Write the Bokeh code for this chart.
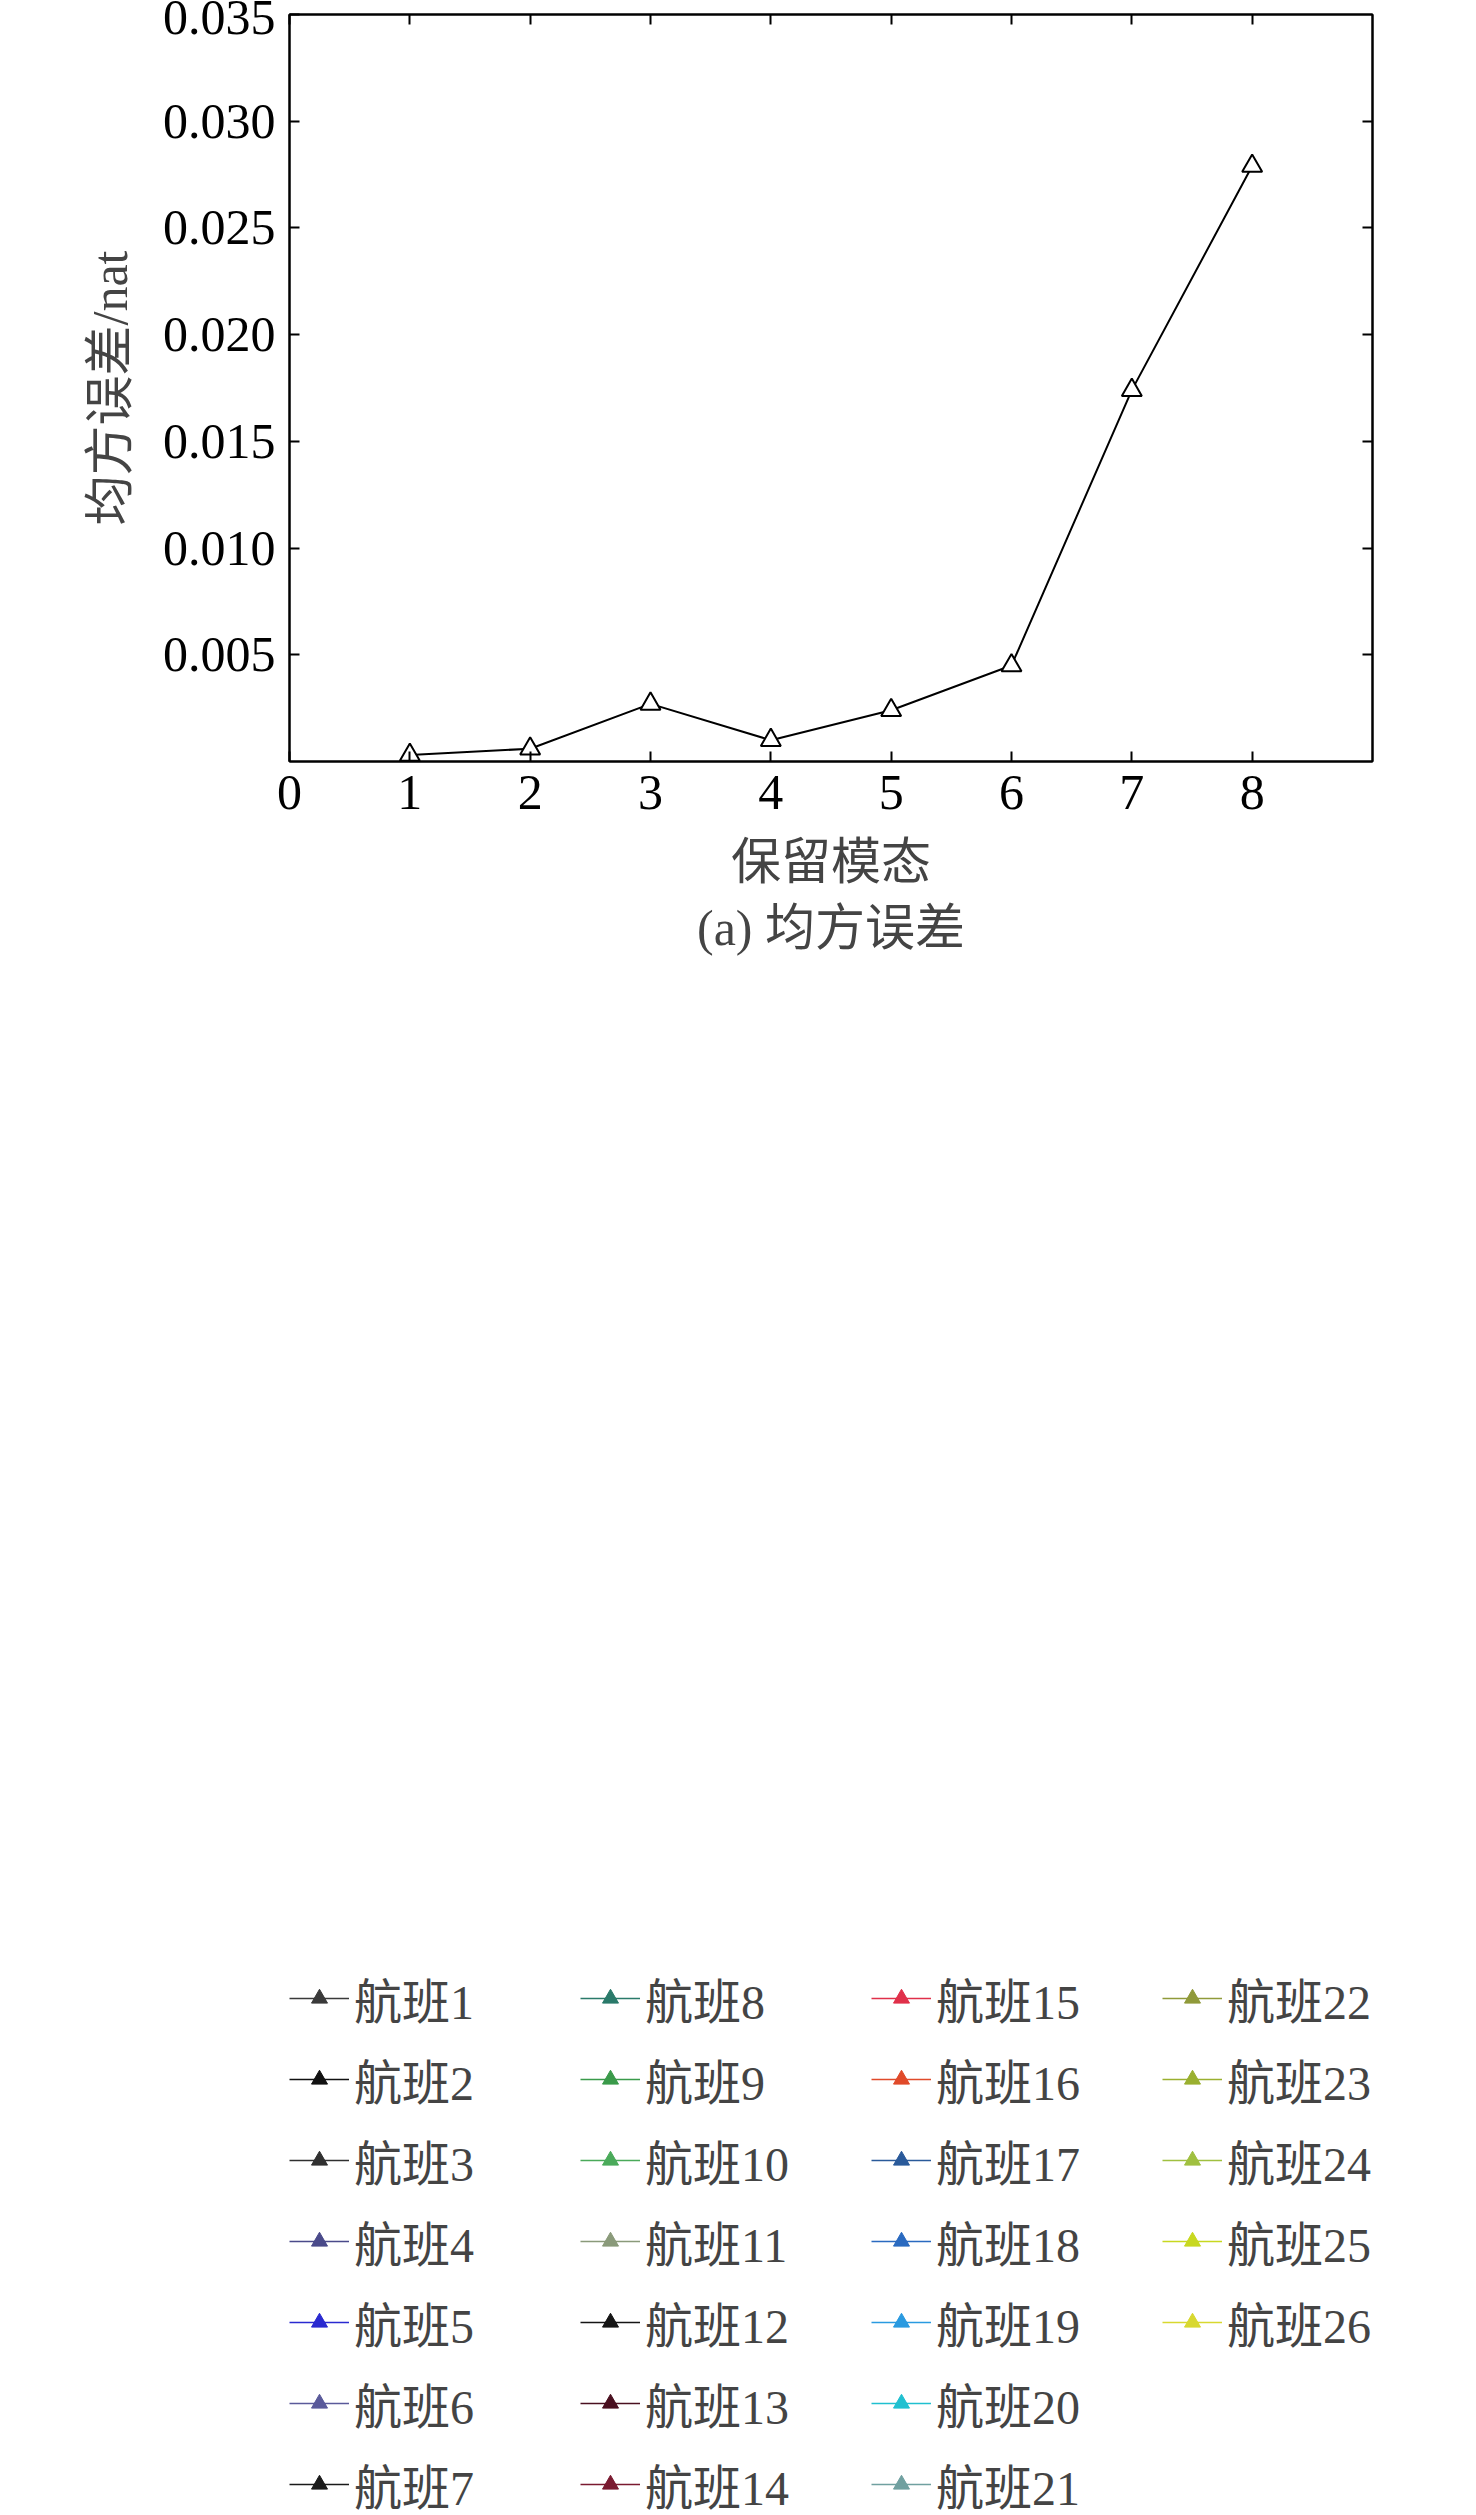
from bokeh.plotting import figure
from bokeh.models import Range1d, FixedTicker, LinearAxis, Legend, LegendItem, Title, PrintfTickFormatter
from bokeh.layouts import column
from bokeh.embed import file_html
from bokeh.resources import INLINE

FONT = "Liberation Serif, Noto Sans CJK SC"

modes = [1, 2, 3, 4, 5, 6, 7, 8]
mse = [0.0003, 0.0006, 0.0027, 0.0010, 0.0024, 0.0045, 0.0174, 0.0279]

scales = list(range(1, 21))
s1 = [0.35,0.015,0.40,0.46,0.49,0.50,0.47,0.45,0.41,0.38,0.35,0.30,0.27,0.24,0.22,0.20,0.19,0.18,0.17,0.15]
s2 = [0.31,0.015,0.37,0.44,0.48,0.45,0.41,0.40,0.36,0.33,0.30,0.27,0.22,0.19,0.17,0.16,0.15,0.14,0.115,0.185]
s3 = [0.33,0.015,0.38,0.45,0.50,0.52,0.49,0.47,0.43,0.38,0.33,0.28,0.25,0.23,0.21,0.20,0.19,0.18,0.17,0.16]
s4 = [0.40,0.015,0.36,0.42,0.46,0.45,0.42,0.40,0.30,0.27,0.33,0.27,0.355,0.26,0.22,0.21,0.25,0.28,0.24,0.34]
s5 = [0.30,0.015,0.34,0.41,0.45,0.44,0.42,0.39,0.35,0.31,0.28,0.22,0.20,0.18,0.19,0.20,0.18,0.19,0.22,0.23]
s6 = [0.32,0.015,0.35,0.43,0.47,0.47,0.45,0.41,0.37,0.34,0.32,0.26,0.23,0.24,0.20,0.18,0.21,0.30,0.22,0.26]
s7 = [0.29,0.015,0.33,0.40,0.44,0.43,0.40,0.39,0.35,0.30,0.27,0.27,0.21,0.17,0.21,0.20,0.20,0.14,0.17,0.14]
s8 = [0.39,0.015,0.36,0.43,0.47,0.48,0.46,0.43,0.40,0.35,0.32,0.26,0.24,0.22,0.19,0.21,0.20,0.24,0.28,0.23]
s9 = [0.33,0.015,0.38,0.45,0.49,0.49,0.47,0.44,0.38,0.34,0.30,0.26,0.25,0.20,0.18,0.16,0.17,0.21,0.26,0.27]
s10 = [0.31,0.015,0.37,0.44,0.48,0.50,0.47,0.44,0.41,0.40,0.35,0.29,0.28,0.23,0.22,0.19,0.21,0.22,0.25,0.28]
s11 = [0.34,0.015,0.39,0.46,0.49,0.47,0.46,0.45,0.42,0.41,0.41,0.30,0.27,0.24,0.21,0.21,0.20,0.22,0.24,0.16]
s12 = [0.30,0.015,0.36,0.43,0.47,0.51,0.48,0.46,0.47,0.43,0.39,0.30,0.28,0.25,0.20,0.20,0.17,0.19,0.18,0.13]
s13 = [0.32,0.015,0.37,0.45,0.51,0.52,0.49,0.50,0.40,0.36,0.38,0.405,0.30,0.20,0.30,0.22,0.19,0.14,0.14,0.15]
s14 = [0.31,0.015,0.38,0.44,0.515,0.52,0.48,0.505,0.43,0.30,0.37,0.27,0.26,0.17,0.22,0.21,0.21,0.25,0.27,0.26]
s15 = [0.215,0.015,0.24,0.29,0.345,0.365,0.367,0.297,0.28,0.31,0.33,0.34,0.375,0.44,0.37,0.43,0.495,0.503,0.53,0.465]
s16 = [0.455,0.015,0.435,0.45,0.43,0.385,0.335,0.375,0.325,0.295,0.25,0.215,0.22,0.21,0.15,0.15,0.13,0.13,0.135,0.15]
s17 = [0.32,0.015,0.35,0.42,0.46,0.46,0.44,0.42,0.38,0.33,0.31,0.25,0.25,0.30,0.325,0.30,0.22,0.23,0.20,0.26]
s18 = [0.30,0.015,0.33,0.41,0.44,0.47,0.44,0.41,0.40,0.35,0.30,0.32,0.27,0.25,0.19,0.18,0.22,0.30,0.21,0.22]
s19 = [0.28,0.015,0.32,0.40,0.44,0.45,0.43,0.42,0.41,0.36,0.33,0.28,0.24,0.22,0.18,0.19,0.20,0.21,0.22,0.24]
s20 = [0.33,0.015,0.34,0.40,0.43,0.44,0.43,0.45,0.43,0.34,0.30,0.28,0.23,0.31,0.29,0.19,0.22,0.25,0.23,0.22]
s21 = [0.34,0.015,0.37,0.42,0.45,0.49,0.50,0.44,0.39,0.36,0.36,0.30,0.22,0.20,0.20,0.18,0.21,0.20,0.27,0.24]
s22 = [0.35,0.015,0.37,0.46,0.49,0.46,0.47,0.43,0.40,0.38,0.30,0.33,0.29,0.22,0.20,0.22,0.22,0.18,0.21,0.24]
s23 = [0.36,0.015,0.40,0.47,0.50,0.48,0.45,0.44,0.42,0.41,0.34,0.28,0.27,0.24,0.22,0.24,0.14,0.21,0.15,0.12]
s24 = [0.30,0.015,0.38,0.46,0.47,0.47,0.45,0.48,0.45,0.39,0.35,0.30,0.25,0.23,0.23,0.18,0.19,0.10,0.24,0.16]
s25 = [0.47,0.015,0.455,0.48,0.48,0.43,0.38,0.32,0.28,0.235,0.22,0.175,0.19,0.21,0.13,0.15,0.14,0.15,0.055,0.13]
s26 = [0.34,0.015,0.39,0.47,0.48,0.40,0.39,0.37,0.35,0.36,0.29,0.29,0.22,0.23,0.27,0.23,0.32,0.34,0.33,0.38]
series = [s1,s2,s3,s4,s5,s6,s7,s8,s9,s10,s11,s12,s13,s14,s15,s16,s17,s18,s19,s20,s21,s22,s23,s24,s25,s26]
names = ["航班%d" % i for i in range(1, 27)]
colors = ["#3a3a3a","#111111","#303030","#4a4a8a","#2a2ad0","#5a5a9a","#1a1a1a",
          "#2a7a6a","#3a9a4a","#4aaa5a","#8a9a7a","#151515","#4a1020","#7a1a30",
          "#e0304a","#e04a2a","#2a5a9a","#2a6ac0","#2a9ae0","#20c0d0","#70a0a0",
          "#909a3a","#9ab030","#a0c040","#c8d820","#d8d830"]

def style_axes(p):
    for ax in p.axis:
        ax.axis_line_width = 2
        ax.major_tick_in = 10
        ax.major_tick_out = 0
        ax.major_tick_line_width = 2
        ax.minor_tick_line_color = None
        ax.major_label_text_font = FONT
        ax.major_label_text_color = "black"
        ax.axis_label_text_font = FONT
        ax.axis_label_text_font_size = "50px"
        ax.axis_label_text_font_style = "normal"
        ax.axis_label_standoff = 22
        ax.major_label_standoff = 14
        ax.major_label_text_font_size = "50px"
    p.xgrid.visible = False
    p.ygrid.visible = False
    p.outline_line_color = "black"
    p.outline_line_width = 2

def mirror(p, xt, yt):
    for side, t in (("right", yt), ("above", xt)):
        ax = LinearAxis(ticker=FixedTicker(ticks=t), major_label_text_font_size="1px",
                        major_label_text_color=None, major_label_standoff=0,
                        axis_line_width=2, major_tick_in=10, major_tick_out=0,
                        major_tick_line_width=2, minor_tick_line_color=None)
        p.add_layout(ax, side)

# top
p1 = figure(frame_width=1083, frame_height=747, output_backend="svg", toolbar_location=None,
            x_range=Range1d(0, 9), y_range=Range1d(0, 0.035),
            min_border_left=289, min_border_right=80, min_border_top=14)
p1.line(modes, mse, line_color="black", line_width=2)
p1.scatter(modes, mse, marker="triangle", size=20, fill_color="white", line_color="black", line_width=2)
p1.xaxis.ticker = FixedTicker(ticks=list(range(0, 9)))
p1.yaxis.ticker = FixedTicker(ticks=[0.005,0.01,0.015,0.02,0.025,0.03,0.035])
p1.yaxis.formatter = PrintfTickFormatter(format="%.3f")
p1.xaxis.axis_label = "保留模态"
p1.yaxis.axis_label = "均方误差/nat"
style_axes(p1)
mirror(p1, list(range(0, 9)), [0.005,0.01,0.015,0.02,0.025,0.03])
p1.add_layout(Title(text="(a) 均方误差", align="center", text_font=FONT, text_font_size="50px", text_font_style="normal"), "below")

# bottom
p2 = figure(frame_width=1083, frame_height=746, output_backend="svg", toolbar_location=None,
            x_range=Range1d(0, 20), y_range=Range1d(0, 0.6),
            min_border_left=289, min_border_right=80, min_border_top=20)
items = []
for n, s, c in zip(names, series, colors):
    r1 = p2.line(scales, s, line_color=c, line_width=1.5)
    r2 = p2.scatter(scales, s, marker="triangle", size=13, fill_color=c, line_color=c)
    items.append(LegendItem(label=n, renderers=[r1, r2]))
p2.xaxis.ticker = FixedTicker(ticks=list(range(0, 21, 2)))
p2.yaxis.ticker = FixedTicker(ticks=[0.1,0.2,0.3,0.4,0.5,0.6])
p2.xaxis.axis_label = "尺度因子"
p2.yaxis.axis_label = "样本熵/nat"
style_axes(p2)
mirror(p2, list(range(0, 21, 2)), [0.1,0.2,0.3,0.4,0.5])
leg = Legend(items=items, nrows=7, orientation="vertical", label_text_font=FONT,
             label_text_font_size="48px", glyph_width=60, glyph_height=40,
             label_height=50, spacing=11, label_width=215, border_line_color=None,
             background_fill_alpha=0, margin=0, padding=10, location="top_left")
p2.add_layout(leg, "above")
p2.add_layout(Title(text="(b) HMSE", align="center", text_font=FONT, text_font_size="50px", text_font_style="normal"), "below")

lay = column(p1, p2, spacing=0)
open("out.html", "w").write(file_html(lay, INLINE))
